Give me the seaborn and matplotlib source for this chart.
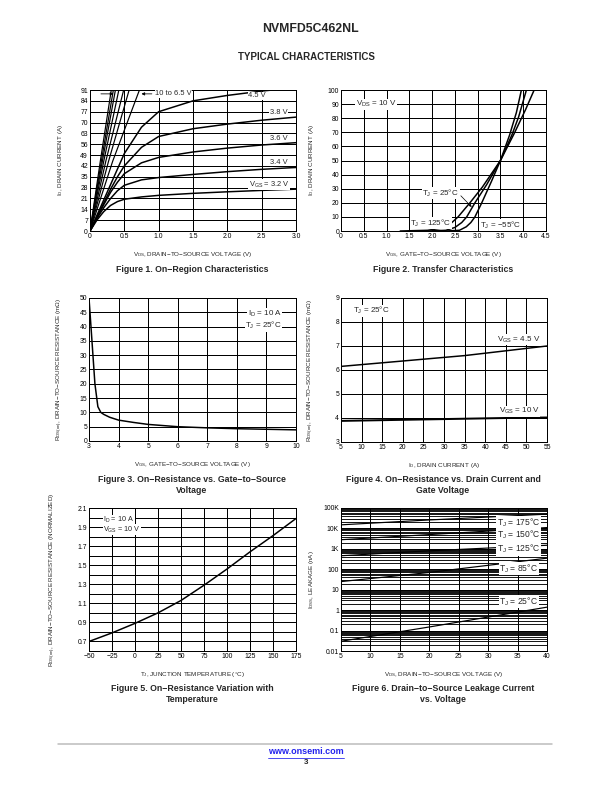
import numpy as np
import matplotlib
matplotlib.use("Agg")
import matplotlib.pyplot as plt
import seaborn as sns
from matplotlib.lines import Line2D
from matplotlib.ticker import LogLocator, NullFormatter

sns.set_style("white")
plt.rcParams['font.family'] = ['Liberation Sans', 'DejaVu Sans']
plt.rcParams['mathtext.default'] = 'regular'

# ---- Figure 1 data: on-region characteristics ----
vds_sat = [0, 0.1, 0.2, 0.3, 0.4, 0.5, 0.75, 1.0, 1.5, 2.0, 2.5, 3.0]
id_32 = [0, 7, 12.5, 16.5, 19, 20.5, 22, 23, 24.3, 25.3, 26.2, 27]
id_34 = [0, 8, 15, 21, 26, 29.5, 33, 34.5, 36.5, 38.3, 39.8, 41]
id_36 = [0, 8.5, 17, 25, 31.5, 37, 44, 47.5, 51, 53.5, 55.5, 57]
id_38 = [0, 9, 18, 27, 35, 42, 54, 61, 66, 69, 71.5, 73.5]
id_45 = [0, 10, 20, 30, 40, 50, 67, 77, 84, 87.5, 90.3, 92.5]
id_steep = [0, 45, 91]
vds_steep = [[0, 0.15, 0.31], [0, 0.165, 0.34], [0, 0.18, 0.37], [0, 0.2, 0.42],
             [0, 0.23, 0.49], [0, 0.27, 0.57], [0, 0.33, 0.72]]

# ---- Figure 2 data: transfer characteristics ----
vgs_125 = [1.3, 1.9, 2.2, 2.4, 2.57, 2.83, 3.1, 3.5, 3.8, 4.05, 4.24]
id_125 = [0, 0.5, 2, 5, 10, 20, 31, 50, 69, 86, 100]
vgs_25 = [1.9, 2.3, 2.5, 2.65, 2.76, 2.94, 3.2, 3.5, 3.75, 3.9, 4.07]
id_25 = [0, 0.5, 2.5, 6, 10, 20, 33, 50, 68, 81, 100]
vgs_m55 = [2.3, 2.6, 2.75, 2.85, 2.94, 3.09, 3.3, 3.5, 3.7, 3.85, 3.96]
id_m55 = [0, 0.5, 3, 6, 10, 20, 35, 50, 68, 84, 100]

# ---- Figure 3 data: RDS(on) vs VGS ----
vgs_r = [3.0, 3.1, 3.2, 3.3, 3.4, 3.5, 3.7, 4.0, 4.5, 5, 6, 7, 8, 9, 10]
rds_r = [50, 35, 20, 12, 10, 9.3, 8.3, 7.3, 6.5, 5.8, 5.0, 4.6, 4.3, 4.1, 3.9]

# ---- Figure 4 data: RDS(on) vs ID ----
id_r = [5, 15, 25, 35, 45, 55]
rds_45 = [6.15, 6.3, 6.45, 6.6, 6.8, 7.0]
rds_10 = [3.88, 3.91, 3.94, 3.97, 4.0, 4.02]

# ---- Figure 5 data: normalized RDS(on) vs TJ ----
tj = [-50, -25, 0, 25, 50, 75, 100, 125, 150, 175]
rds_norm = [0.70, 0.79, 0.89, 1.00, 1.13, 1.29, 1.46, 1.64, 1.81, 1.99]

# ---- Figure 6 data: leakage vs VDS ----
vds_l = [5, 20, 40]
leak_175 = [15000, 26000, 50000]
leak_150 = [2800, 5000, 11000]
leak_125 = [460, 800, 1500]
leak_85 = [25, 70, 350]
leak_25 = [0.03, 0.15, 1.4]

fig = plt.figure(figsize=(8.5, 11), dpi=72)
W, H = 612, 792


def place(x0, y0, x1, y1):
    return fig.add_axes([x0 / W, 1 - y1 / H, (x1 - x0) / W, (y1 - y0) / H])


def style(ax):
    ax.grid(True, color='black', lw=1.0)
    ax.set_axisbelow(True)
    for s in ax.spines.values():
        s.set_color('black')
        s.set_linewidth(1.0)
    ax.tick_params(length=0, pad=2, labelsize=6.7, colors='black')


fs = 6.3     # axis labels
fa = 8.0     # annotations
box = dict(facecolor='white', edgecolor='none', pad=0.5)
lw = 1.5

# Figure 1
ax1 = place(90, 90, 296, 231)
for y in [id_32, id_34, id_36, id_38, id_45]:
    sns.lineplot(x=vds_sat, y=y, ax=ax1, color='black', lw=lw)
for v in vds_steep:
    sns.lineplot(x=v, y=id_steep, ax=ax1, color='black', lw=1.2)
ax1.set_xlim(0, 3.0)
ax1.set_ylim(0, 91)
ax1.set_xticks([0, 0.5, 1.0, 1.5, 2.0, 2.5, 3.0])
ax1.set_xticklabels(['0', '0.5', '1.0', '1.5', '2.0', '2.5', '3.0'])
ax1.set_yticks(range(0, 92, 7))
style(ax1)
ax1.annotate('', xy=(0.37, 88.5), xytext=(0.13, 88.5),
             arrowprops=dict(arrowstyle='-|>', color='black', lw=0.8, mutation_scale=6))
ax1.annotate('', xy=(0.72, 88.5), xytext=(0.93, 88.5),
             arrowprops=dict(arrowstyle='-|>', color='black', lw=0.8, mutation_scale=6))
ax1.text(0.95, 88.5, '10 to 6.5 V', fontsize=fa - 0.5, va='center', ha='left', bbox=box)
ax1.text(2.43, 87.3, '4.5 V', fontsize=fa - 0.5, va='center', ha='center', bbox=box)
ax1.text(2.75, 76.6, '3.8 V', fontsize=fa - 0.5, va='center', ha='center', bbox=box)
ax1.text(2.75, 60, '3.6 V', fontsize=fa - 0.5, va='center', ha='center', bbox=box)
ax1.text(2.75, 44.4, '3.4 V', fontsize=fa - 0.5, va='center', ha='center', bbox=box)
ax1.text(2.61, 30, 'V$_{GS}$ = 3.2 V', fontsize=fa - 0.5, va='center', ha='center', bbox=box)
ax1.set_xlabel('V$_{DS}$, DRAIN\u2212TO\u2212SOURCE VOLTAGE (V)', fontsize=fs)
ax1.set_ylabel('I$_{D}$, DRAIN CURRENT (A)', fontsize=fs)

# Figure 2
ax2 = place(341, 90, 546, 231)
for x, y in [(vgs_125, id_125), (vgs_25, id_25), (vgs_m55, id_m55)]:
    sns.lineplot(x=x, y=y, ax=ax2, color='black', lw=lw)
ax2.set_xlim(0, 4.5)
ax2.set_ylim(0, 100)
ax2.set_xticks(np.arange(0, 4.51, 0.5))
ax2.set_xticklabels(['0', '0.5', '1.0', '1.5', '2.0', '2.5', '3.0', '3.5', '4.0', '4.5'])
ax2.set_yticks(range(0, 101, 10))
style(ax2)
ax2.text(0.77, 90, 'V$_{DS}$ = 10 V', fontsize=fa, va='center', ha='center', bbox=box)
ax2.annotate('', xy=(2.9, 16), xytext=(2.6, 26),
             arrowprops=dict(arrowstyle='-|>', color='black', lw=0.7, mutation_scale=5))
ax2.text(2.19, 27, 'T$_{J}$ = 25\u00b0C', fontsize=fa, va='center', ha='center', bbox=box)
ax2.text(1.97, 5.6, 'T$_{J}$ = 125\u00b0C', fontsize=fa, va='center', ha='center', bbox=box)
ax2.text(3.5, 4.2, 'T$_{J}$ = \u221255\u00b0C', fontsize=fa, va='center', ha='center', bbox=box)
ax2.set_xlabel('V$_{GS}$, GATE\u2212TO\u2212SOURCE VOLTAGE (V)', fontsize=fs)
ax2.set_ylabel('I$_{D}$, DRAIN CURRENT (A)', fontsize=fs)

# Figure 3
ax3 = place(89, 298, 296, 441)
sns.lineplot(x=vgs_r, y=rds_r, ax=ax3, color='black', lw=lw)
ax3.set_xlim(3, 10)
ax3.set_ylim(0, 50)
ax3.set_xticks(range(3, 11))
ax3.set_yticks(range(0, 51, 5))
style(ax3)
ax3.text(8.95, 44.4, 'I$_{D}$ = 10 A', fontsize=fa, va='center', ha='center', bbox=box)
ax3.text(8.9, 40.3, 'T$_{J}$ = 25\u00b0C', fontsize=fa, va='center', ha='center', bbox=box)
ax3.set_xlabel('V$_{GS}$, GATE\u2212TO\u2212SOURCE VOLTAGE (V)', fontsize=fs)
ax3.set_ylabel('R$_{DS(on)}$, DRAIN\u2212TO\u2212SOURCE RESISTANCE (m\u03a9)', fontsize=fs)

# Figure 4
ax4 = place(341, 298, 547, 442)
sns.lineplot(x=id_r, y=rds_45, ax=ax4, color='black', lw=lw)
sns.lineplot(x=id_r, y=rds_10, ax=ax4, color='black', lw=2.0)
ax4.set_xlim(5, 55)
ax4.set_ylim(3, 9)
ax4.set_xticks(range(5, 56, 5))
ax4.set_yticks(range(3, 10))
style(ax4)
ax4.text(12.4, 8.47, 'T$_{J}$ = 25\u00b0C', fontsize=fa, va='center', ha='center', bbox=box)
ax4.text(48.1, 7.26, 'V$_{GS}$ = 4.5 V', fontsize=fa, va='center', ha='center', bbox=box)
ax4.text(48.3, 4.28, 'V$_{GS}$ = 10 V', fontsize=fa, va='center', ha='center', bbox=box)
ax4.set_xlabel('I$_{D}$, DRAIN CURRENT (A)', fontsize=fs)
ax4.set_ylabel('R$_{DS(on)}$, DRAIN\u2212TO\u2212SOURCE RESISTANCE (m\u03a9)', fontsize=fs)

# Figure 5
ax5 = place(89, 508, 296, 651)
sns.lineplot(x=tj, y=rds_norm, ax=ax5, color='black', lw=lw)
ax5.set_xlim(-50, 175)
ax5.set_ylim(0.6, 2.1)
ax5.set_xticks(range(-50, 176, 25))
ax5.set_xticklabels(['\u221250', '\u221225', '0', '25', '50', '75', '100', '125', '150', '175'])
ax5.set_yticks(np.arange(0.6, 2.11, 0.1))
ax5.set_yticklabels(['', '0.7', '', '0.9', '', '1.1', '', '1.3', '', '1.5', '', '1.7', '', '1.9', '', '2.1'])
style(ax5)
ax5.text(-34.5, 1.97, 'I$_{D}$ = 10 A', fontsize=7.3, va='center', ha='left',
         bbox=dict(facecolor='white', edgecolor='none', pad=0.2))
ax5.text(-34.5, 1.875, 'V$_{GS}$ = 10 V', fontsize=7.3, va='center', ha='left',
         bbox=dict(facecolor='white', edgecolor='none', pad=0.2))
ax5.set_xlabel('T$_{J}$, JUNCTION TEMPERATURE (\u00b0C)', fontsize=fs)
ax5.set_ylabel('R$_{DS(on)}$, DRAIN\u2212TO\u2212SOURCE RESISTANCE (NORMALIZED)', fontsize=fs)

# Figure 6
ax6 = place(341, 508, 547, 651)
for y in [leak_175, leak_150, leak_125, leak_85, leak_25]:
    sns.lineplot(x=vds_l, y=y, ax=ax6, color='black', lw=1.2)
ax6.set_yscale('log')
ax6.set_xlim(5, 40)
ax6.set_ylim(0.01, 1e5)
ax6.set_xticks(range(5, 41, 5))
ax6.set_yticks([0.01, 0.1, 1, 10, 100, 1e3, 1e4, 1e5])
ax6.set_yticklabels(['0.01', '0.1', '1', '10', '100', '1K', '10K', '100K'])
ax6.yaxis.set_minor_locator(LogLocator(base=10, subs=range(2, 10), numticks=20))
ax6.yaxis.set_minor_formatter(NullFormatter())
style(ax6)
ax6.grid(True, which='minor', axis='y', color='black', lw=0.9)
ax6.tick_params(which='minor', length=0)
for lbl, yv in [('175', 18000), ('150', 4700), ('125', 1000), ('85', 110), ('25', 2.6)]:
    ax6.text(35.2, yv, 'T$_{J}$ = ' + lbl + '\u00b0C', fontsize=fa + 0.5, va='center', ha='center', bbox=box)
ax6.set_xlabel('V$_{DS}$, DRAIN\u2212TO\u2212SOURCE VOLTAGE (V)', fontsize=fs)
ax6.set_ylabel('I$_{DSS}$, LEAKAGE (nA)', fontsize=fs)

# label placement
for ax, yl in [(ax1, -0.12), (ax2, -0.122), (ax3, -0.116), (ax4, -0.122), (ax5, -0.15), (ax6, -0.122)]:
    ax.yaxis.set_label_coords(yl, 0.5)
    ax.xaxis.set_label_coords(0.5, -0.135)

# captions
caps = [(192, 270, 'Figure 1. On\u2212Region Characteristics'),
        (443, 270, 'Figure 2. Transfer Characteristics'),
        (192, 485, 'Figure 3. On\u2212Resistance vs. Gate\u2212to\u2212Source\nVoltage'),
        (443, 485, 'Figure 4. On\u2212Resistance vs. Drain Current and\nGate Voltage'),
        (192, 694, 'Figure 5. On\u2212Resistance Variation with\nTemperature'),
        (443, 694, 'Figure 6. Drain\u2212to\u2212Source Leakage Current\nvs. Voltage')]
for x, y, t in caps:
    fig.text(x / W, 1 - y / H, t, fontsize=8.8, fontweight='bold', ha='center', va='center',
             linespacing=1.25)

fig.text(310 / W, 1 - 29 / H, 'NVMFD5C462NL', fontsize=12.2, fontweight='bold', ha='center', va='center')
fig.text(306 / W, 1 - 57 / H, 'TYPICAL CHARACTERISTICS', fontsize=9.8, fontweight='bold', ha='center', va='center')
fig.add_artist(Line2D([58 / W, 552 / W], [1 - 744 / H] * 2, color='#bbbbbb', lw=1.5))
fig.text(306 / W, 1 - 752 / H, 'www.onsemi.com', fontsize=9, fontweight='bold', color='#2222ee',
         ha='center', va='center')
fig.add_artist(Line2D([268 / W, 344 / W], [1 - 757.5 / H] * 2, color='#2222ee', lw=0.8))
fig.text(306 / W, 1 - 763 / H, '3', fontsize=8, fontweight='bold', ha='center', va='center')

fig.savefig('out.png', dpi=72)
